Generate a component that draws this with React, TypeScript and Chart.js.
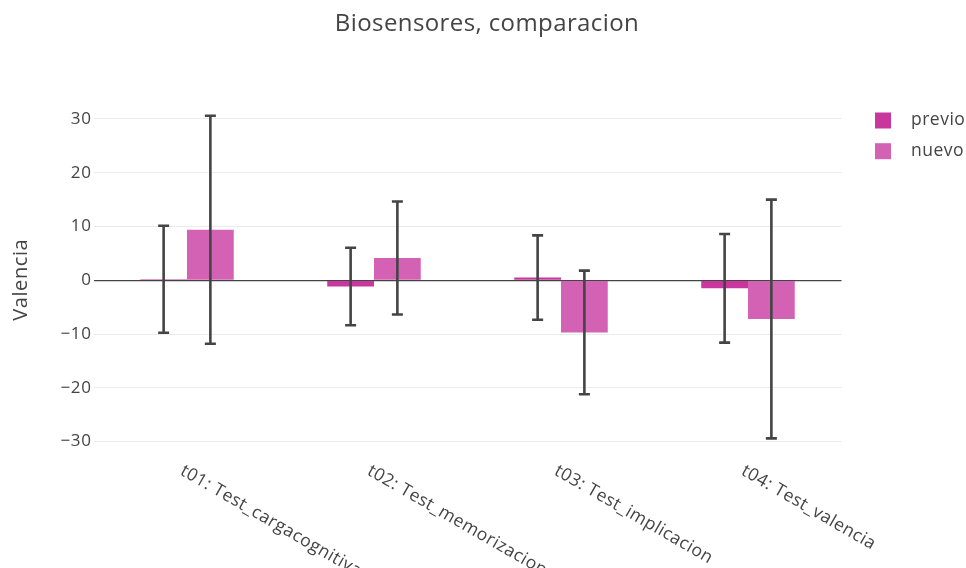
import React, { useEffect, useRef } from "react";
import { Chart, registerables } from "chart.js";

Chart.register(...registerables);

const titleText = "Biosensores, comparacion";
const yAxisTitle = "Valencia";
const categories = [
  "t01: Test_cargacognitiva",
  "t02: Test_memorizacion",
  "t03: Test_implicacion",
  "t04: Test_valencia",
];
const seriesNames = ["previo", "nuevo"];
const previo = [0.2, -1.15, 0.5, -1.5];
const previoErr = [9.95, 7.2, 7.85, 10.1];
const nuevo = [9.4, 4.15, -9.7, -7.2];
const nuevoErr = [21.2, 10.5, 11.5, 22.2];
const yTickValues = [-30, -20, -10, 0, 10, 20, 30];
const yMin = -31.8;
const yMax = 32;

const colors = ["#C8369E", "#D462B4"];
const textColor = "#444";
const FONT = "'Open Sans', 'Noto Sans', sans-serif";

const errorBarPlugin = {
  id: "errorBars",
  afterDatasetsDraw(chart: any) {
    const ctx = chart.ctx;
    const yScale = chart.scales.y;
    chart.data.datasets.forEach((ds: any, di: number) => {
      const meta = chart.getDatasetMeta(di);
      const errs: number[] = ds.errors || [];
      meta.data.forEach((el: any, i: number) => {
        const v = ds.data[i];
        const e = errs[i];
        const x = el.x;
        const yTop = yScale.getPixelForValue(v + e);
        const yBot = yScale.getPixelForValue(v - e);
        ctx.save();
        ctx.strokeStyle = "#444";
        ctx.lineWidth = 2.6;
        ctx.beginPath();
        ctx.moveTo(x, yTop);
        ctx.lineTo(x, yBot);
        ctx.moveTo(x - 5.5, yTop);
        ctx.lineTo(x + 5.5, yTop);
        ctx.moveTo(x - 5.5, yBot);
        ctx.lineTo(x + 5.5, yBot);
        ctx.stroke();
        ctx.restore();
      });
    });
  },
};

const spacingPlugin = {
  id: "spacing",
  beforeDraw(chart: any) {
    (chart.ctx as any).letterSpacing = "0.6px";
  },
};

const decorPlugin = {
  id: "decor",
  afterDraw(chart: any) {
    const ctx = chart.ctx;
    const xScale = chart.scales.x;
    ctx.save();
    // title
    ctx.fillStyle = textColor;
    (ctx as any).letterSpacing = "0.4px";
    ctx.font = `24px ${FONT}`;
    ctx.textAlign = "center";
    ctx.textBaseline = "alphabetic";
    ctx.fillText(titleText, 487, 31);
    // x labels rotated
    (ctx as any).letterSpacing = "0.5px";
    ctx.font = `17.5px ${FONT}`;
    ctx.textAlign = "left";
    ctx.textBaseline = "top";
    categories.forEach((c, i) => {
      const cx = xScale.getPixelForValue(i);
      ctx.save();
      ctx.translate(cx - 1, 462);
      ctx.rotate(Math.PI / 6);
      ctx.fillText(c, 0, 0);
      ctx.restore();
    });
    // legend
    (ctx as any).letterSpacing = "0.5px";
    ctx.font = `17.5px ${FONT}`;
    ctx.textBaseline = "middle";
    chart.data.datasets.forEach((ds: any, i: number) => {
      const yc = 120.5 + i * 30.7;
      ctx.fillStyle = ds.backgroundColor;
      ctx.fillRect(875, yc - 8, 16, 16);
      ctx.fillStyle = textColor;
      ctx.fillText(ds.label, 911, yc);
    });
    ctx.restore();
  },
};

export default function App() {
  const ref = useRef<HTMLCanvasElement | null>(null);
  useEffect(() => {
    if (!ref.current) return;
    Chart.defaults.font.family = FONT;
    const chart = new Chart(ref.current, {
      type: "bar",
      data: {
        labels: categories,
        datasets: [
          {
            label: seriesNames[0],
            data: previo,
            errors: previoErr,
            backgroundColor: colors[0],
            categoryPercentage: 0.5,
            barPercentage: 1,
          } as any,
          {
            label: seriesNames[1],
            data: nuevo,
            errors: nuevoErr,
            backgroundColor: colors[1],
            categoryPercentage: 0.5,
            barPercentage: 1,
          } as any,
        ],
      },
      options: {
        animation: false,
        responsive: false,
        maintainAspectRatio: false,
        layout: { padding: { left: 0, right: 124.5, top: 108.2, bottom: 0 } },
        plugins: {
          legend: { display: false },
          title: { display: false },
          tooltip: { enabled: false },
        },
        scales: {
          x: {
            offset: true,
            grid: { display: false },
            border: { display: false },
            ticks: { display: false },
            afterFit: (scale: any) => {
              scale.height = 568 - 451.3;
            },
          },
          y: {
            min: yMin,
            max: yMax,
            afterBuildTicks: (scale: any) => {
              scale.ticks = yTickValues.map((v) => ({ value: v }));
            },
            afterFit: (scale: any) => {
              scale.width = 93.5;
            },
            border: { display: false },
            grid: {
              drawTicks: false,
              color: (c: any) => (c.tick && c.tick.value === 0 ? "#444" : "#ebebeb"),
              lineWidth: (c: any) => (c.tick && c.tick.value === 0 ? 1.3 : 1),
            },
            ticks: {
              padding: 2,
              color: textColor,
              font: { size: 17, family: FONT },
              callback: (v: any) => String(v).replace("-", "\u2212"),
            },
            title: {
              display: true,
              text: yAxisTitle,
              color: textColor,
              font: { size: 20, family: FONT },
              padding: { top: 9, bottom: 0 },
            },
          },
        },
      },
      plugins: [spacingPlugin, errorBarPlugin, decorPlugin],
    } as any);
    return () => chart.destroy();
  }, []);
  return (
    <div style={{ position: "absolute", left: 0, top: 0, width: 966, height: 568, background: "#fff" }}>
      <canvas ref={ref} width={966} height={568} style={{ width: 966, height: 568 }} />
    </div>
  );
}
